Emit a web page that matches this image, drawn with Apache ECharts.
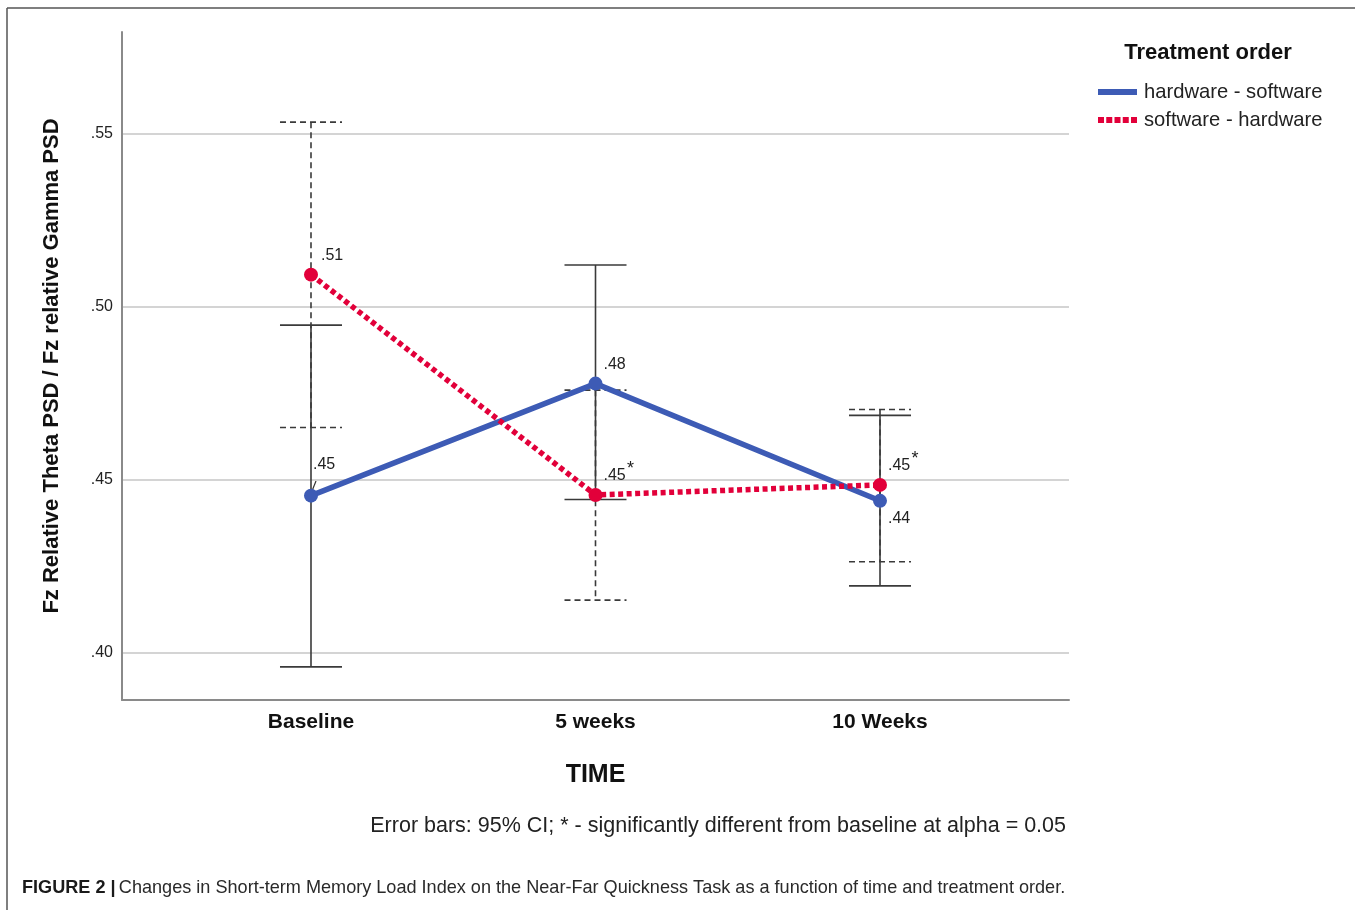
<!DOCTYPE html>
<html><head><meta charset="utf-8">
<script src="https://cdn.jsdelivr.net/npm/echarts@6/dist/echarts.min.js"></script>
<style>html,body{margin:0;padding:0;background:#fff}#c{width:1355px;height:910px}</style>
</head><body><div id="c"></div>
<script>
// ---- data ----
const categories = ['Baseline', '5 weeks', '10 Weeks'];
const seriesNames = ['hardware - software', 'software - hardware'];
const hwMean = [0.4453, 0.4777, 0.4438];
const hwLow  = [0.3958, 0.4442, 0.4192];
const hwHigh = [0.4946, 0.5120, 0.4685];
const swMean = [0.5092, 0.4455, 0.4484];
const swLow  = [0.4650, 0.4151, 0.4262];
const swHigh = [0.5533, 0.4758, 0.4702];
const hwSig = [false, false, false];
const swSig = [false, true, true];
const yTicks = [0.40, 0.45, 0.50, 0.55];
const yTickLabels = ['.40', '.45', '.50', '.55'];
const xTicks = [0, 1, 2];

// ---- styles ----
const FONT = 'Liberation Sans, Arial, sans-serif';
const BLUE = '#3d5bb5';
const RED = '#e2003a';
const hwLabelOff = [[2, -31], [8, -19], [8, 18]];
const swLabelOff = [[10, -19], [8, -19], [8, -19]];
const starOff = [35, -26];

const fmt = v => v.toFixed(2).replace(/^0/, '');

function pointData(means, offs) {
  return means.map((v, i) => ({
    value: [xTicks[i], v],
    label: { offset: offs[i], formatter: fmt(v) }
  }));
}

function starMarks(means, sig) {
  return means.map((v, i) => ({ coord: [xTicks[i], v], sig: sig[i] }))
    .filter(d => d.sig).map(d => ({ coord: d.coord }));
}

function errRender(dashed) {
  return function (params, api) {
    const x = api.value(0), lo = api.value(1), hi = api.value(2);
    const pHi = api.coord([x, hi]), pLo = api.coord([x, lo]);
    const hw = 31;
    const style = { stroke: '#3a3a3a', lineWidth: 1.6, lineDash: dashed ? [6, 4] : null, fill: null };
    return {
      type: 'group', children: [
        { type: 'line', shape: { x1: pHi[0], y1: pHi[1], x2: pLo[0], y2: pLo[1] }, style: style },
        { type: 'line', shape: { x1: pHi[0] - hw, y1: pHi[1], x2: pHi[0] + hw, y2: pHi[1] }, style: style },
        { type: 'line', shape: { x1: pLo[0] - hw, y1: pLo[1], x2: pLo[0] + hw, y2: pLo[1] }, style: style }
      ]
    };
  };
}

const labelBase = {
  show: true, position: 'inside', align: 'left', verticalAlign: 'middle',
  fontSize: 16, fontFamily: FONT, color: '#222'
};

const starMarkPoint = (means, sig) => ({
  symbol: 'circle', symbolSize: 1, silent: true,
  itemStyle: { color: 'rgba(0,0,0,0)' },
  label: {
    show: true, position: 'inside', formatter: '*', offset: starOff,
    fontSize: 18, fontFamily: FONT, color: '#222', align: 'center', verticalAlign: 'middle'
  },
  data: starMarks(means, sig)
});

const chart = echarts.init(document.getElementById('c'), null, { renderer: 'canvas' });
chart.setOption({
  animation: false,
  backgroundColor: '#fff',
  grid: { left: 122, right: 286, top: 32, bottom: 210, containLabel: false },
  xAxis: {
    type: 'value', min: -0.6643, max: 2.6643,
    name: 'TIME', nameLocation: 'middle', nameGap: 63,
    nameTextStyle: { fontFamily: FONT, fontWeight: 'bold', fontSize: 25, color: '#111' },
    axisLine: { show: true, onZero: false, lineStyle: { color: '#8a8a8a', width: 2 } },
    axisTick: { show: false, customValues: xTicks },
    splitLine: { show: false },
    axisLabel: {
      customValues: xTicks, margin: 12,
      formatter: v => categories[Math.round(v)],
      fontFamily: FONT, fontWeight: 'bold', fontSize: 21, color: '#111'
    }
  },
  yAxis: {
    type: 'value', min: 0.38621, max: 0.57936,
    name: 'Fz Relative Theta PSD / Fz relative Gamma PSD',
    nameLocation: 'middle', nameRotate: 90, nameGap: 59,
    nameTextStyle: { fontFamily: FONT, fontWeight: 'bold', fontSize: 22, color: '#111' },
    axisLine: { show: true, onZero: false, lineStyle: { color: '#8a8a8a', width: 2 } },
    axisTick: { show: false, customValues: yTicks },
    splitLine: { show: true, lineStyle: { color: '#c6c6c6', width: 1.5 } },
    axisLabel: {
      customValues: yTicks, margin: 9,
      formatter: v => yTickLabels[yTicks.findIndex(t => Math.abs(t - v) < 1e-6)] || '',
      fontFamily: FONT, fontSize: 16, color: '#222'
    }
  },
  legend: {
    orient: 'vertical', left: 1093, top: 76, itemWidth: 39, itemHeight: 6, itemGap: 6,
    textStyle: { fontFamily: FONT, fontSize: 20.2, color: '#222', lineHeight: 22, padding: [0, 0, 0, 2] },
    data: [
      { name: seriesNames[0], icon: 'rect' },
      { name: seriesNames[1], icon: 'path://M0,0h6v6h-6z M8.25,0h6v6h-6z M16.5,0h6v6h-6z M24.75,0h6v6h-6z M33,0h6v6h-6z' }
    ]
  },
  graphic: [
    { type: 'line', shape: { x1: 7, y1: 8, x2: 1355, y2: 8 }, style: { stroke: '#555', lineWidth: 1.5 } },
    { type: 'line', shape: { x1: 7, y1: 8, x2: 7, y2: 910 }, style: { stroke: '#555', lineWidth: 1.5 } },
    { type: 'line', shape: { x1: 312, y1: 491, x2: 316, y2: 481 }, style: { stroke: '#333', lineWidth: 1.2 } },
    { type: 'text', x: 1208, y: 53, style: { text: 'Treatment order', fontFamily: FONT, fontWeight: 'bold', fontSize: 22, fill: '#111', textAlign: 'center', textVerticalAlign: 'middle' } },
    { type: 'text', x: 1066, y: 826, style: { text: 'Error bars: 95% CI; * - significantly different from baseline at alpha = 0.05', fontFamily: FONT, fontSize: 21.5, fill: '#222', textAlign: 'right', textVerticalAlign: 'middle' } },
    { type: 'text', x: 22, y: 888, style: {
      text: '{b|FIGURE 2 |} {r|Changes in Short-term Memory Load Index on the Near-Far Quickness Task as a function of time and treatment order.}',
      textVerticalAlign: 'middle', textAlign: 'left',
      rich: {
        b: { fontFamily: FONT, fontWeight: 'bold', fontSize: 18.1, fill: '#1a1a1a' },
        r: { fontFamily: FONT, fontSize: 18.1, fill: '#2a2a2a' }
      }
    } }
  ],
  series: [
    {
      name: 'hwCI', type: 'custom', renderItem: errRender(false), z: 1, silent: true,
      encode: { x: 0, y: [1, 2] },
      data: hwMean.map((v, i) => [xTicks[i], hwLow[i], hwHigh[i]])
    },
    {
      name: 'swCI', type: 'custom', renderItem: errRender(true), z: 1, silent: true,
      encode: { x: 0, y: [1, 2] },
      data: swMean.map((v, i) => [xTicks[i], swLow[i], swHigh[i]])
    },
    {
      name: seriesNames[0], type: 'line', z: 3,
      color: BLUE, symbol: 'circle', symbolSize: 14,
      lineStyle: { color: BLUE, width: 5.5 }, itemStyle: { color: BLUE },
      label: labelBase,
      markPoint: starMarkPoint(hwMean, hwSig),
      data: pointData(hwMean, hwLabelOff)
    },
    {
      name: seriesNames[1], type: 'line', z: 4,
      color: RED, symbol: 'circle', symbolSize: 14,
      lineStyle: { color: RED, width: 5.5, type: [5, 3.5], cap: 'butt' }, itemStyle: { color: RED },
      label: labelBase,
      markPoint: starMarkPoint(swMean, swSig),
      data: pointData(swMean, swLabelOff)
    }
  ]
});
</script>
</body></html>
